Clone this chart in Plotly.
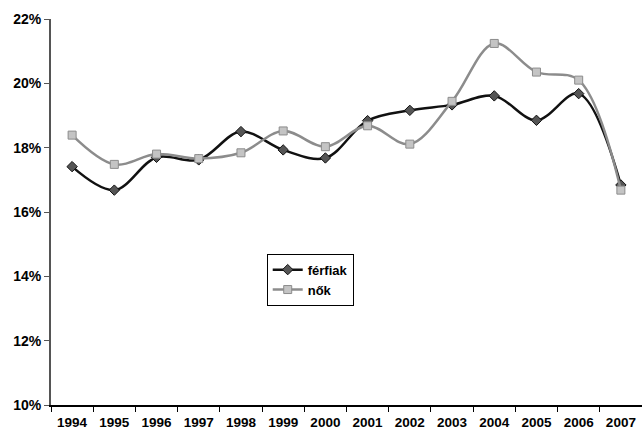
import plotly.graph_objects as go

years = [str(y) for y in range(1994, 2008)]
ferfiak = [17.41, 16.68, 17.70, 17.62, 18.50, 17.93, 17.68, 18.84, 19.16, 19.33, 19.61, 18.85, 19.68, 16.84]
nok = [18.39, 17.48, 17.80, 17.66, 17.84, 18.52, 18.03, 18.68, 18.11, 19.44, 21.24, 20.35, 20.10, 16.68]

fig = go.Figure()

fig.add_trace(go.Scatter(
    x=years, y=ferfiak, name="férfiak", mode="lines+markers",
    line=dict(color="#111111", width=2.5, shape="spline", smoothing=1),
    marker=dict(symbol="diamond", size=8, color="#555555", line=dict(color="#111111", width=1)),
    cliponaxis=False,
))
fig.add_trace(go.Scatter(
    x=years, y=nok, name="nők", mode="lines+markers",
    line=dict(color="#8c8c8c", width=2.5, shape="spline", smoothing=1),
    marker=dict(symbol="square", size=8, color="#c4c4c4", line=dict(color="#8c8c8c", width=1)),
    cliponaxis=False,
))

bold = dict(family="Arial, Liberation Sans, sans-serif", size=13, color="black", weight="bold")

fig.update_layout(
    template="none",
    width=642, height=430,
    margin=dict(l=51, r=0, t=19, b=25),
    paper_bgcolor="white", plot_bgcolor="white",
    font=bold,
    showlegend=True,
    legend=dict(
        x=0.365, y=0.392, xanchor="left", yanchor="top",
        bordercolor="black", borderwidth=1, bgcolor="white",
        font=bold, tracegroupgap=0, itemwidth=30,
    ),
    xaxis=dict(
        type="category", tickson="boundaries", automargin=False,
        range=[-0.5, len(years) - 0.5],
        showline=True, linecolor="black", linewidth=1.5,
        ticks="outside", ticklen=5, tickcolor="black", tickwidth=1,
        showgrid=False, zeroline=False,
        tickfont=dict(bold, size=13.5), ticklabelstandoff=4,
    ),
    yaxis=dict(
        range=[10, 22], dtick=2, ticksuffix="%", automargin=False,
        showline=True, linecolor="#555555", linewidth=2,
        ticks="outside", ticklen=5, tickcolor="#555555", tickwidth=1,
        showgrid=False, zeroline=False,
        tickfont=dict(bold, size=14),
    ),
)

# page has a default body margin; remove it so the figure fills the window
fig.write_html("out.html", config={"displayModeBar": False},
               post_script="document.body.style.margin='0';")
